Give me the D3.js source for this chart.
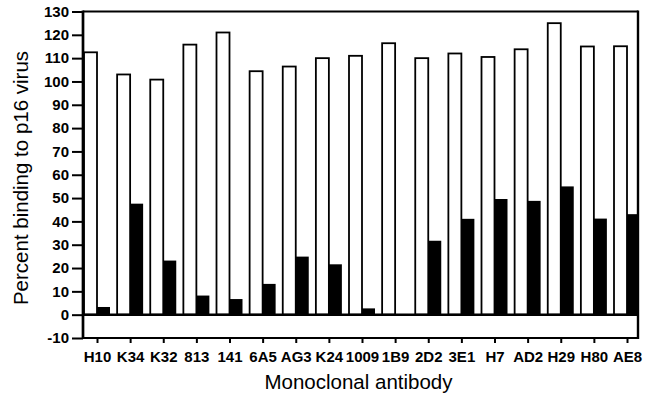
<!DOCTYPE html>
<html>
<head>
<meta charset="utf-8">
<script src="https://cdn.jsdelivr.net/npm/d3@7"></script>
<style>
  html, body { margin: 0; padding: 0; background: #fff; }
  svg { display: block; }
  text { font-family: "Liberation Sans", Arial, Helvetica, sans-serif; fill: #000; }
</style>
</head>
<body>
<svg id="chart" width="653" height="397"></svg>
<script>
// ---- data ----
const categories = ["H10","K34","K32","813","141","6A5","AG3","K24","1009","1B9","2D2","3E1","H7","AD2","H29","H80","AE8"];
const openBars   = [112.5, 103, 100.8, 115.8, 121, 104.4, 106.4, 110, 111, 116.4, 110, 112, 110.5, 113.8, 125, 115, 115.1];
const filledBars = [3.3, 47.6, 23.2, 8.2, 6.7, 13.2, 24.9, 21.6, 2.7, 0.3, 31.7, 41.1, 49.6, 48.8, 55, 41.2, 43.1];
const yTicks = [-10, 0, 10, 20, 30, 40, 50, 60, 70, 80, 90, 100, 110, 120, 130];
const xTitle = "Monoclonal antibody";
const yTitle = "Percent binding to p16 virus";

// ---- layout ----
const plotLeft = 83, plotRight = 638, plotTop = 11.5, plotBottom = 338;
const barW = 13;

const svg = d3.select("#chart");

const y = d3.scaleLinear().domain([-10, 130]).range([plotBottom, plotTop]);
const x = d3.scalePoint().domain(categories).range([97, 627]);

svg.append("defs").append("clipPath").attr("id", "plotclip")
  .append("rect").attr("x", plotLeft).attr("y", plotTop)
  .attr("width", plotRight - plotLeft).attr("height", plotBottom - plotTop);

const bars = svg.append("g").attr("clip-path", "url(#plotclip)");

// open (white) bars
bars.selectAll("rect.open").data(categories).join("rect")
  .attr("class", "open")
  .attr("x", d => x(d) - barW)
  .attr("y", (d, i) => y(openBars[i]))
  .attr("width", barW)
  .attr("height", (d, i) => y(0) - y(openBars[i]))
  .attr("fill", "#fff")
  .attr("stroke", "#000")
  .attr("stroke-width", 1.8);

// filled (black) bars
bars.selectAll("rect.filled").data(categories).join("rect")
  .attr("class", "filled")
  .attr("x", d => x(d))
  .attr("y", (d, i) => y(filledBars[i]))
  .attr("width", barW)
  .attr("height", (d, i) => y(0) - y(filledBars[i]))
  .attr("fill", "#000");

// zero line
svg.append("line")
  .attr("x1", plotLeft).attr("x2", plotRight)
  .attr("y1", y(0)).attr("y2", y(0))
  .attr("stroke", "#000").attr("stroke-width", 2.4);

// frame
svg.append("line").attr("x1", plotLeft).attr("x2", plotRight).attr("y1", plotTop).attr("y2", plotTop)
  .attr("stroke", "#000").attr("stroke-width", 2.2);
svg.append("line").attr("x1", plotLeft).attr("x2", plotRight).attr("y1", plotBottom).attr("y2", plotBottom)
  .attr("stroke", "#000").attr("stroke-width", 2.2);
svg.append("line").attr("x1", plotRight).attr("x2", plotRight).attr("y1", plotTop - 1).attr("y2", plotBottom + 1)
  .attr("stroke", "#000").attr("stroke-width", 2.4);

// y axis
const yAxis = svg.append("g")
  .attr("transform", `translate(${plotLeft},0)`)
  .call(d3.axisLeft(y).tickValues(yTicks).tickFormat(d => String(d)).tickSize(11).tickPadding(3).tickSizeOuter(0));
yAxis.select(".domain").remove();
yAxis.selectAll(".tick line").attr("stroke", "#000").attr("stroke-width", 2);
yAxis.selectAll(".tick text")
  .style("font-family", '"Liberation Sans", Arial, sans-serif')
  .style("font-size", "15px").style("font-weight", "bold").attr("fill", "#000");
svg.append("line").attr("x1", plotLeft).attr("x2", plotLeft).attr("y1", plotTop - 1).attr("y2", plotBottom + 1)
  .attr("stroke", "#000").attr("stroke-width", 2.7);

// x axis
const xAxis = svg.append("g")
  .attr("transform", `translate(0,${plotBottom})`)
  .call(d3.axisBottom(x).tickSize(5).tickPadding(8).tickSizeOuter(0));
xAxis.select(".domain").remove();
xAxis.selectAll(".tick line").attr("stroke", "#000").attr("stroke-width", 2);
xAxis.selectAll(".tick text")
  .style("font-family", '"Liberation Sans", Arial, sans-serif')
  .style("font-size", "15px").style("font-weight", "bold").attr("fill", "#000");

// titles
svg.append("text")
  .attr("x", 358.5).attr("y", 389)
  .attr("text-anchor", "middle")
  .style("font-size", "20.5px")
  .text(xTitle);

svg.append("text")
  .attr("transform", "translate(28,178) rotate(-90)")
  .attr("text-anchor", "middle")
  .style("font-size", "20.5px")
  .text(yTitle);
</script>
</body>
</html>
